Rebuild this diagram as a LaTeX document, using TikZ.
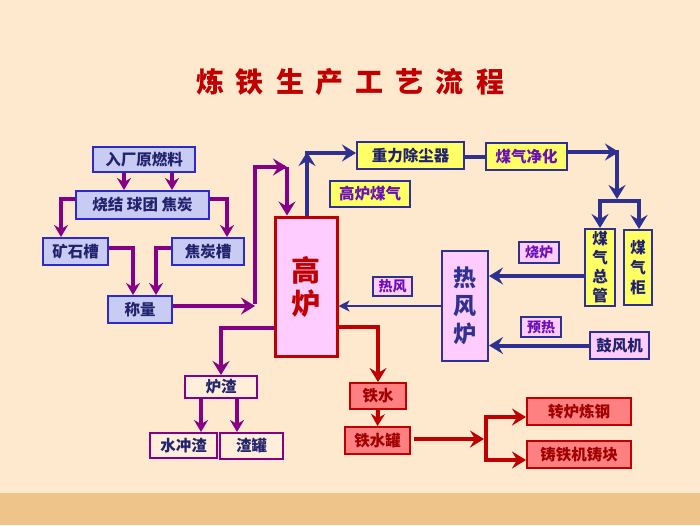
\documentclass[tikz,border=0pt]{standalone}
\usepackage{fontspec}
\setmainfont{Noto Sans CJK SC}
\usetikzlibrary{arrows.meta}
\definecolor{bg}{HTML}{FFE9CE}
\definecolor{band}{HTML}{EEC48B}
\definecolor{lfill}{HTML}{C8CCF2}
\definecolor{lbord}{HTML}{2A2AD0}
\definecolor{navytxt}{HTML}{22236E}
\definecolor{navy}{HTML}{2E3192}
\definecolor{purp}{HTML}{850085}
\definecolor{ptxt}{HTML}{6A10B8}
\definecolor{yfill}{HTML}{FFFF66}
\definecolor{pinkfill}{HTML}{FFCCFF}
\definecolor{dred}{HTML}{C00000}
\definecolor{rfill}{HTML}{FF8080}
\definecolor{rtxt}{HTML}{A00000}
\definecolor{slagfill}{HTML}{FFEEDA}
\begin{document}
\begin{tikzpicture}[x=1pt,y=-1pt,
  box/.style={draw, line width=2pt, inner sep=0pt, align=center,
    font=\bfseries\fontsize{15.5}{18}\selectfont},
  wh/.style 2 args={minimum width=#1pt, minimum height=#2pt},
  lbox/.style={box, draw=lbord, fill=lfill, text=navytxt},
  ybox/.style={box, draw=navy, fill=yfill, text=navytxt},
  pbox/.style={box, draw=navy, fill=pinkfill, text=navytxt},
  tag/.style={box, draw=navy, fill=pinkfill, text=ptxt, line width=1.5pt,
    font=\bfseries\fontsize{14}{16}\selectfont},
  sbox/.style={box, draw=purp, fill=slagfill, text=navytxt},
  rbox/.style={box, draw=dred, fill=rfill, text=rtxt},
  ar/.style={line width=4pt, -{Stealth[length=14pt,width=17pt,inset=5pt]}},
  sar/.style={line width=4pt, -{Stealth[length=12pt,width=14pt,inset=4pt]}},
  parr/.style={ar, draw=purp},
  sparr/.style={sar, draw=purp},
  barr/.style={ar, draw=navy},
  rarr/.style={ar, draw=dred},
  bline/.style={line width=4pt, draw=navy},
  rline/.style={line width=4pt, draw=dred}]
\fill[bg] (0,0) rectangle (700,525);
\useasboundingbox (0,0) rectangle (700,525);
\fill[band] (0,493) rectangle (700,525);

% title
\node[text=dred, font=\bfseries\fontsize{28}{30}\selectfont] (title) at (350,82)
  {炼\hspace{12pt}铁\hspace{12pt}生\hspace{12pt}产\hspace{12pt}工\hspace{12pt}艺\hspace{12pt}流\hspace{12pt}程};

% left material section
\node[lbox, wh={102}{25}] (src) at (144,159.5) {入厂原燃料};
\node[lbox, wh={133}{28}] (sjq) at (142.5,205) {烧结 球团 焦炭};
\node[lbox, wh={65}{27}] (kst) at (75.5,251.5) {矿石槽};
\node[lbox, wh={72}{27}] (jtc) at (208,251.5) {焦炭槽};
\node[lbox, wh={64}{27}] (cl) at (140,309.5) {称量};

% blast furnace
\node[box, draw=dred, fill=pinkfill, text=dred, line width=3pt, wh={62}{139},
  font=\bfseries\fontsize{29}{33}\selectfont] (gl) at (306,286.5) {高\\炉};

% gas section
\node[ybox, wh={107}{27}] (zl) at (410.5,155.5) {重力除尘器};
\node[ybox, wh={81}{27}, text=ptxt] (mq) at (526.5,156.5) {煤气净化};
\node[ybox, wh={80}{26}, text=ptxt] (glmq) at (370,194) {高炉煤气};
\node[ybox, wh={30}{77}, font=\bfseries\fontsize{15.5}{19}\selectfont] (mqzg) at (600,267.5) {煤\\气\\总\\管};
\node[ybox, wh={28}{75}, font=\bfseries\fontsize{15.5}{20}\selectfont] (mqg) at (638,267.5) {煤\\气\\柜};

% hot blast stove
\node[pbox, wh={46}{110}, text=navy, font=\bfseries\fontsize{23}{28}\selectfont] (rfl) at (465,306) {热\\风\\炉};
\node[tag, wh={40}{21}] (sl) at (539,252.5) {烧炉};
\node[tag, wh={39}{19}] (rf) at (392.5,286.5) {热风};
\node[tag, wh={40}{20}] (yr) at (541,327) {预热};
\node[pbox, wh={59}{27}] (gfj) at (619.5,345.5) {鼓风机};

% slag
\node[sbox, wh={72}{22}] (lz) at (221,387) {炉渣};
\node[sbox, wh={67}{25}] (sc) at (183.5,445.5) {水冲渣};
\node[sbox, wh={63}{26}] (zg) at (251.5,446) {渣罐};

% iron
\node[rbox, wh={56}{26}] (ts) at (378,396) {铁水};
\node[rbox, wh={65}{27}] (tsg) at (377.5,440.5) {铁水罐};
\node[rbox, wh={104}{27}] (zlg) at (579,411.5) {转炉炼钢};
\node[rbox, wh={104}{27}] (ztk) at (579,454.5) {铸铁机铸块};

% coordinates for bends
\coordinate (p1) at (255,306);
\coordinate (p2) at (255,167);
\coordinate (p3) at (287,167);
\coordinate (b1) at (307,153);
\coordinate (b2) at (617,152);
\coordinate (b3) at (617,199);
\coordinate (b4) at (600,201);
\coordinate (b5) at (639,201);
\coordinate (r1) at (486,439);
\coordinate (r2) at (486,417);
\coordinate (r3) at (486,460);

% left arrows
\draw[sparr] ([xshift=-20pt]src.south) -- ([xshift=-20pt]src.south |- sjq.north);
\draw[sparr] ([xshift=28pt]src.south) -- ([xshift=28pt]src.south |- sjq.north);
\draw[sparr] ([yshift=6pt]sjq.west) -| ([xshift=-14.5pt]kst.north);
\draw[sparr] ([yshift=6pt]sjq.east) -| ([xshift=19pt]jtc.north);
\draw[sparr] ([yshift=3.5pt]kst.east) -| ([xshift=-7pt]cl.north);
\draw[sparr] ([yshift=3.5pt]jtc.west) -| ([xshift=16pt]cl.north);
\draw[parr] ([yshift=3.5pt]cl.east) -- (p1);
\draw[line width=4pt, draw=purp] ([yshift=2pt]p1) -- (p2) -- ([xshift=-2pt]p3);
\draw[parr] (p2) -- (p3);
\draw[parr] (p3) -- (p3 |- gl.north);

% gas arrows
\draw[barr] (b1 |- gl.north) -- ([yshift=1pt]b1);
\draw[barr] ([xshift=-2pt]b1) -- (b1 -| zl.west);
\draw[bline] (zl.east |- mq.west) -- (mq.west);
\draw[barr] (mq.east |- b2) -- ([xshift=2pt]b2);
\draw[barr] ([yshift=2pt]b2) -- (b3);
\draw[bline] ([xshift=-2pt]b4) -- ([xshift=2pt]b5);
\draw[barr] (b4) -- (b4 |- mqzg.north);
\draw[barr] (b5) -- (b5 |- mqg.north);

% stove arrows
\draw[barr] ([yshift=-8.5pt]mqzg.west) coordinate (t1) -- (t1 -| rfl.east);
\draw[barr] (gfj.west) -- (gfj.west -| rfl.east);
\draw[draw=navy, line width=2.2pt, -{Stealth[length=11pt,width=11pt,inset=3pt]}] (rfl.west) -- (rfl.west -| gl.east);

% slag arrows
\draw[parr] ([yshift=-41.5pt]gl.west) -| (lz.north);
\draw[sparr] ([xshift=-20pt]lz.south) -- ([xshift=-20pt]lz.south |- sc.north);
\draw[sparr] ([xshift=16pt]lz.south) -- ([xshift=16pt]lz.south |- zg.north);

% iron arrows
\draw[rarr] ([yshift=-40.5pt]gl.east) -| (ts.north);
\draw[sparr, draw=dred] (ts.south) -- (tsg.north);
\draw[rarr] ([yshift=1.5pt,xshift=3pt]tsg.east) -- ([xshift=-2pt]r1);
\draw[rline] ([yshift=-2pt]r2) -- ([yshift=2pt]r3);
\draw[rarr] ([xshift=-2pt]r2) -- (r2 -| zlg.west);
\draw[rarr] ([xshift=-2pt]r3) -- (r3 -| ztk.west);
\end{tikzpicture}
\end{document}
